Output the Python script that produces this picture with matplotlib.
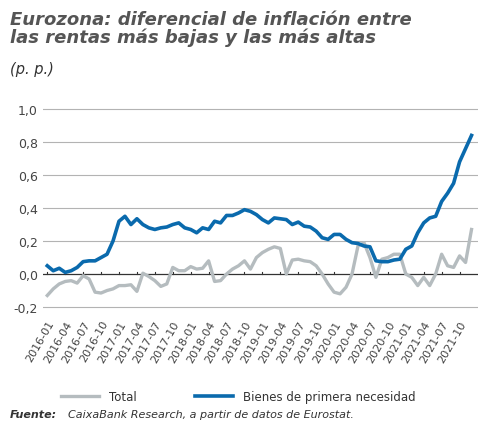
import numpy as np
import pandas as pd
import matplotlib.pyplot as plt

months = pd.date_range("2016-01", "2021-12", freq="MS")
labels = [d.strftime("%Y-%m") for d in months]

bienes = [0.05, 0.02, 0.035, 0.01, 0.02, 0.04, 0.075, 0.08, 0.08, 0.1, 0.12, 0.2,
          0.32, 0.35, 0.30, 0.335, 0.30, 0.28, 0.27, 0.28, 0.285, 0.30, 0.31, 0.28,
          0.27, 0.25, 0.28, 0.27, 0.32, 0.31, 0.355, 0.355, 0.37, 0.39, 0.38, 0.36,
          0.33, 0.31, 0.34, 0.335, 0.33, 0.30, 0.315, 0.29, 0.285, 0.26, 0.22, 0.21,
          0.24, 0.24, 0.21, 0.19, 0.185, 0.17, 0.165, 0.08, 0.075, 0.075, 0.085, 0.09,
          0.15, 0.17, 0.25, 0.31, 0.34, 0.35, 0.44, 0.49, 0.55, 0.68, 0.76, 0.84]
total = [-0.13, -0.09, -0.06, -0.045, -0.04, -0.055, -0.01, -0.03, -0.11, -0.115, -0.10, -0.09,
         -0.07, -0.07, -0.065, -0.105, 0.005, -0.015, -0.04, -0.075, -0.06, 0.04, 0.02, 0.02,
         0.045, 0.03, 0.035, 0.08, -0.045, -0.04, 0.0, 0.03, 0.05, 0.08, 0.03, 0.10,
         0.13, 0.15, 0.165, 0.155, 0.0, 0.085, 0.09, 0.08, 0.075, 0.05, 0.0, -0.06,
         -0.11, -0.12, -0.08, 0.0, 0.17, 0.19, 0.1, -0.02, 0.09, 0.10, 0.12, 0.12,
         0.0, -0.02, -0.07, -0.02, -0.07, 0.0, 0.12, 0.05, 0.04, 0.11, 0.07, 0.27]

x = np.arange(len(months))
fig = plt.figure(figsize=(5, 4.31), dpi=100)
ax = fig.add_axes([0.085, 0.27, 0.87, 0.49])

for y in [-0.2, 0.2, 0.4, 0.6, 0.8, 1.0]:
    ax.axhline(y, color="#b3b3b3", lw=0.8, zorder=0)
ax.axhline(0, color="#333333", lw=0.9, zorder=1)

ax.plot(x, total, color="#b5bcbf", lw=2.4, label="Total", zorder=2)
ax.plot(x, bienes, color="#0a6aad", lw=2.6, label="Bienes de primera necesidad", zorder=3)

ax.set_ylim(-0.24, 1.04)
ax.set_xlim(-0.8, 72)
ax.set_yticks([-0.2, 0, 0.2, 0.4, 0.6, 0.8, 1.0])
ax.set_yticklabels(["-0,2", "0,0", "0,2", "0,4", "0,6", "0,8", "1,0"], color="#444444", fontsize=9)
ax.set_xticks(x[::3])
ax.set_xticklabels(labels[::3], rotation=60, ha="right", rotation_mode="anchor",
                   fontsize=8, color="#444444")
ax.tick_params(axis="both", length=0)
for xi in x[::3]:
    ax.plot([xi, xi], [0, 0.015], color="#333333", lw=0.8, zorder=1)
for s in ax.spines.values():
    s.set_visible(False)

ax.legend(loc="upper center", bbox_to_anchor=(0.45, -0.31), ncol=2, frameon=False,
          fontsize=8.5, handlelength=3.2, columnspacing=5, labelcolor="#333333")

fig.text(0.02, 0.975, "Eurozona: diferencial de inflación entre\nlas rentas más bajas y las más altas",
         fontsize=13, fontweight="bold", style="italic", color="#555555", va="top",
         linespacing=1.0)
fig.text(0.02, 0.855, "(p. p.)", fontsize=10.5, style="italic", color="#333333", va="top")
t = fig.text(0.02, 0.03, "Fuente:", fontsize=8, style="italic", fontweight="bold", color="#333333")
fig.text(0.135, 0.03, "CaixaBank Research, a partir de datos de Eurostat.",
         fontsize=8, style="italic", color="#333333")
fig.savefig("out.png", dpi=100)
